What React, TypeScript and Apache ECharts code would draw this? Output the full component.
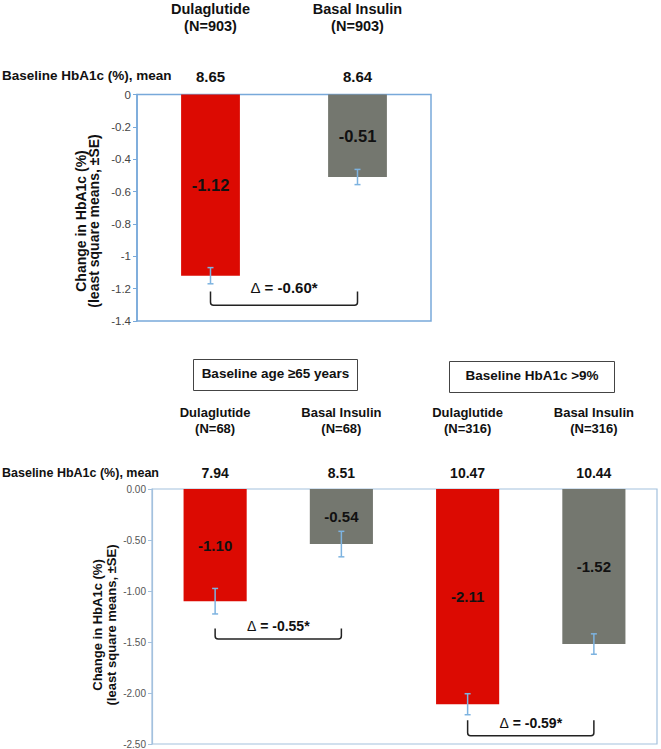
import React, { useEffect, useRef } from "react";
import * as echarts from "echarts";

// ---------- data ----------
const topCategories = ["Dulaglutide\n(N=903)", "Basal Insulin\n(N=903)"];
const topBaseline = ["8.65", "8.64"];
const topValues = [-1.12, -0.51];
const topSE = [0.05, 0.047];

const bottomCategories = [
  "Dulaglutide\n(N=68)",
  "Basal Insulin\n(N=68)",
  "Dulaglutide\n(N=316)",
  "Basal Insulin\n(N=316)",
];
const bottomBaseline = ["7.94", "8.51", "10.47", "10.44"];
const bottomValues = [-1.1, -0.54, -2.11, -1.52];
const bottomSE = [0.125, 0.125, 0.103, 0.1];

const topTreatment = [0, 1];
const bottomTreatment = [0, 1, 0, 1];

const subgroupLabels = ["Baseline age ≥65 years", "Baseline HbA1c >9%"];
const rowLabel = "Baseline HbA1c (%), mean";
const yAxisTitle = "Change in HbA1c (%)\n(least square means, ±SE)";

// brackets: [fromCategory, toCategory, topValue, bottomValue, textValue]
const topBrackets = [[0, 1, -1.217, -1.303, -1.19]];
const topDeltaLabels = ["-0.60*"];
const bottomBrackets = [
  [0, 1, -1.368, -1.47, -1.34],
  [2, 3, -2.267, -2.42, -2.29],
];
const bottomDeltaLabels = ["-0.55*", "-0.59*"];

// ---------- styles ----------
const FONT = "'Liberation Sans', Arial, Helvetica, sans-serif";
const barColors = ["#DC0A02", "#74776F"];
const errColor = "#7DB3E0";
const topAxisColor = "#78A9DA";
const bottomAxisColor = "#A3C1DE";

function errorRender(params: any, api: any) {
  const x = api.value(0);
  const v = api.value(1);
  const se = api.value(2);
  const hi = api.coord([x, v + se]);
  const lo = api.coord([x, v - se]);
  const cw = 3;
  const style = { stroke: errColor, lineWidth: 1.5 };
  return {
    type: "group",
    children: [
      { type: "line", shape: { x1: hi[0], y1: hi[1], x2: lo[0], y2: lo[1] }, style },
      { type: "line", shape: { x1: hi[0] - cw, y1: hi[1], x2: hi[0] + cw, y2: hi[1] }, style },
      { type: "line", shape: { x1: lo[0] - cw, y1: lo[1], x2: lo[0] + cw, y2: lo[1] }, style },
    ],
  };
}

function makeBracketRender(labels: string[], fontSize: number) {
  return (params: any, api: any) => {
    const a = api.value(0);
    const b = api.value(1);
    const p0 = api.coord([a, api.value(2)]);
    const p0b = api.coord([a, api.value(3)]);
    const p1 = api.coord([b, api.value(2)]);
    const pt = api.coord([a, api.value(4)]);
    const x0 = p0[0];
    const x1 = p1[0];
    const yT = p0[1];
    const yB = p0b[1];
    const r = 3;
    const d =
      `M${x0} ${yT} L${x0} ${yB - r} Q${x0} ${yB} ${x0 + r} ${yB} ` +
      `L${x1 - r} ${yB} Q${x1} ${yB} ${x1} ${yB - r} L${x1} ${yT}`;
    return {
      type: "group",
      children: [
        {
          type: "path",
          shape: { pathData: d },
          style: { stroke: "#222", lineWidth: 1.5, fill: null },
        },
        {
          type: "text",
          x: (x0 + x1) / 2,
          y: pt[1],
          style: {
            text: `{d|Δ}{v| = ${labels[params.dataIndex]}}`,
            align: "center",
            verticalAlign: "middle",
            rich: {
              d: { fontFamily: FONT, fontSize, fontWeight: "normal", fill: "#111" },
              v: { fontFamily: FONT, fontSize, fontWeight: "bold", fill: "#111" },
            },
          },
        },
      ],
    };
  };
}

export default function App() {
  const ref = useRef<HTMLDivElement>(null);

  useEffect(() => {
    if (!ref.current) return;
    const chart = echarts.init(ref.current, undefined, { renderer: "svg" });

    const catAxis = (grid: number, data: string[], offset: number, fontSize: number, lineHeight: number) => ({
      type: "category",
      gridIndex: grid,
      position: "top",
      data,
      offset,
      axisLine: { show: false },
      axisTick: { show: false },
      axisLabel: {
        margin: 8,
        fontFamily: FONT,
        fontWeight: "bold",
        fontSize,
        lineHeight,
        color: "#111",
        interval: 0,
      },
    });

    const barLabel = (fontSize: number) => ({
      show: true,
      position: "inside",
      fontFamily: FONT,
      fontWeight: "bold",
      fontSize,
      color: "#111",
      textBorderWidth: 0,
      formatter: (p: any) => Number(p.value).toFixed(2),
    });

    const option: any = {
      animation: false,
      backgroundColor: "#fff",
      textStyle: { fontFamily: FONT },
      grid: [
        {
          left: 137,
          top: 94,
          width: 294,
          height: 227,
          show: true,
          borderColor: topAxisColor,
          borderWidth: 1.5,
          backgroundColor: "transparent",
        },
        {
          left: 152,
          top: 489,
          width: 505,
          height: 255,
          show: true,
          borderColor: bottomAxisColor,
          borderWidth: 1.2,
          backgroundColor: "transparent",
        },
      ],
      xAxis: [
        catAxis(0, topCategories, 52.5, 14.5, 17),
        catAxis(0, topBaseline, 1, 15, 18),
        catAxis(1, bottomCategories, 45, 13, 16),
        catAxis(1, bottomBaseline, 0, 14, 16),
      ],
      yAxis: [
        {
          type: "value",
          gridIndex: 0,
          min: -1.4,
          max: 0,
          interval: 0.2,
          splitLine: { show: false },
          axisLine: { show: true, lineStyle: { color: topAxisColor, width: 1.5 } },
          axisTick: { show: true, length: 4, lineStyle: { color: topAxisColor } },
          axisLabel: { fontFamily: FONT, fontSize: 11.5, color: "#444", margin: 6 },
        },
        {
          type: "value",
          gridIndex: 1,
          min: -2.5,
          max: 0,
          interval: 0.5,
          splitLine: { show: false },
          axisLine: { show: true, lineStyle: { color: bottomAxisColor, width: 1.2 } },
          axisTick: { show: true, length: 4, lineStyle: { color: bottomAxisColor } },
          axisLabel: {
            fontFamily: FONT,
            fontSize: 10,
            color: "#555",
            margin: 6,
            formatter: (v: number) => v.toFixed(2),
          },
        },
      ],
      series: [
        {
          type: "bar",
          xAxisIndex: 0,
          yAxisIndex: 0,
          barWidth: "40%",
          data: topValues.map((v, i) => ({ value: v, itemStyle: { color: barColors[topTreatment[i]] } })),
          label: barLabel(16.5),
        },
        {
          type: "bar",
          xAxisIndex: 2,
          yAxisIndex: 1,
          barWidth: "50%",
          data: bottomValues.map((v, i) => ({ value: v, itemStyle: { color: barColors[bottomTreatment[i]] } })),
          label: barLabel(15),
        },
        {
          type: "custom",
          xAxisIndex: 0,
          yAxisIndex: 0,
          z: 5,
          renderItem: errorRender,
          encode: { x: 0, y: 1 },
          data: topValues.map((v, i) => [i, v, topSE[i]]),
        },
        {
          type: "custom",
          xAxisIndex: 2,
          yAxisIndex: 1,
          z: 5,
          renderItem: errorRender,
          encode: { x: 0, y: 1 },
          data: bottomValues.map((v, i) => [i, v, bottomSE[i]]),
        },
        {
          type: "custom",
          xAxisIndex: 0,
          yAxisIndex: 0,
          z: 6,
          renderItem: makeBracketRender(topDeltaLabels, 15),
          encode: { x: [0, 1], y: [2, 3] },
          data: topBrackets,
        },
        {
          type: "custom",
          xAxisIndex: 2,
          yAxisIndex: 1,
          z: 6,
          renderItem: makeBracketRender(bottomDeltaLabels, 14),
          encode: { x: [0, 1], y: [2, 3] },
          data: bottomBrackets,
        },
      ],
      graphic: [
        {
          type: "text",
          left: 2,
          top: 68,
          style: { text: rowLabel, font: `bold 13.5px ${FONT}`, fill: "#111" },
        },
        {
          type: "text",
          left: 2,
          top: 466,
          style: { text: rowLabel, font: `bold 12.5px ${FONT}`, fill: "#111" },
        },
        {
          type: "text",
          x: 87.5,
          y: 221,
          rotation: Math.PI / 2,
          style: {
            text: yAxisTitle,
            font: `bold 14px ${FONT}`,
            lineHeight: 13,
            align: "center",
            verticalAlign: "middle",
            fill: "#111",
          },
        },
        {
          type: "text",
          x: 104.5,
          y: 625,
          rotation: Math.PI / 2,
          style: {
            text: yAxisTitle,
            font: `bold 13px ${FONT}`,
            lineHeight: 14,
            align: "center",
            verticalAlign: "middle",
            fill: "#111",
          },
        },
        {
          type: "rect",
          shape: { x: 193.5, y: 359.5, width: 164, height: 31 },
          style: { fill: "#fff", stroke: "#444", lineWidth: 1 },
        },
        {
          type: "text",
          x: 275.5,
          y: 373,
          style: {
            text: subgroupLabels[0],
            font: `bold 13.5px ${FONT}`,
            align: "center",
            verticalAlign: "middle",
            fill: "#111",
          },
        },
        {
          type: "rect",
          shape: { x: 449.5, y: 361.5, width: 165, height: 31 },
          style: { fill: "#fff", stroke: "#444", lineWidth: 1 },
        },
        {
          type: "text",
          x: 532,
          y: 375,
          style: {
            text: subgroupLabels[1],
            font: `bold 13.5px ${FONT}`,
            align: "center",
            verticalAlign: "middle",
            fill: "#111",
          },
        },
      ],
    };

    chart.setOption(option);
    return () => chart.dispose();
  }, []);

  return (
    <div
      ref={ref}
      style={{ position: "absolute", left: 0, top: 0, width: 661, height: 749, background: "#fff" }}
    />
  );
}
